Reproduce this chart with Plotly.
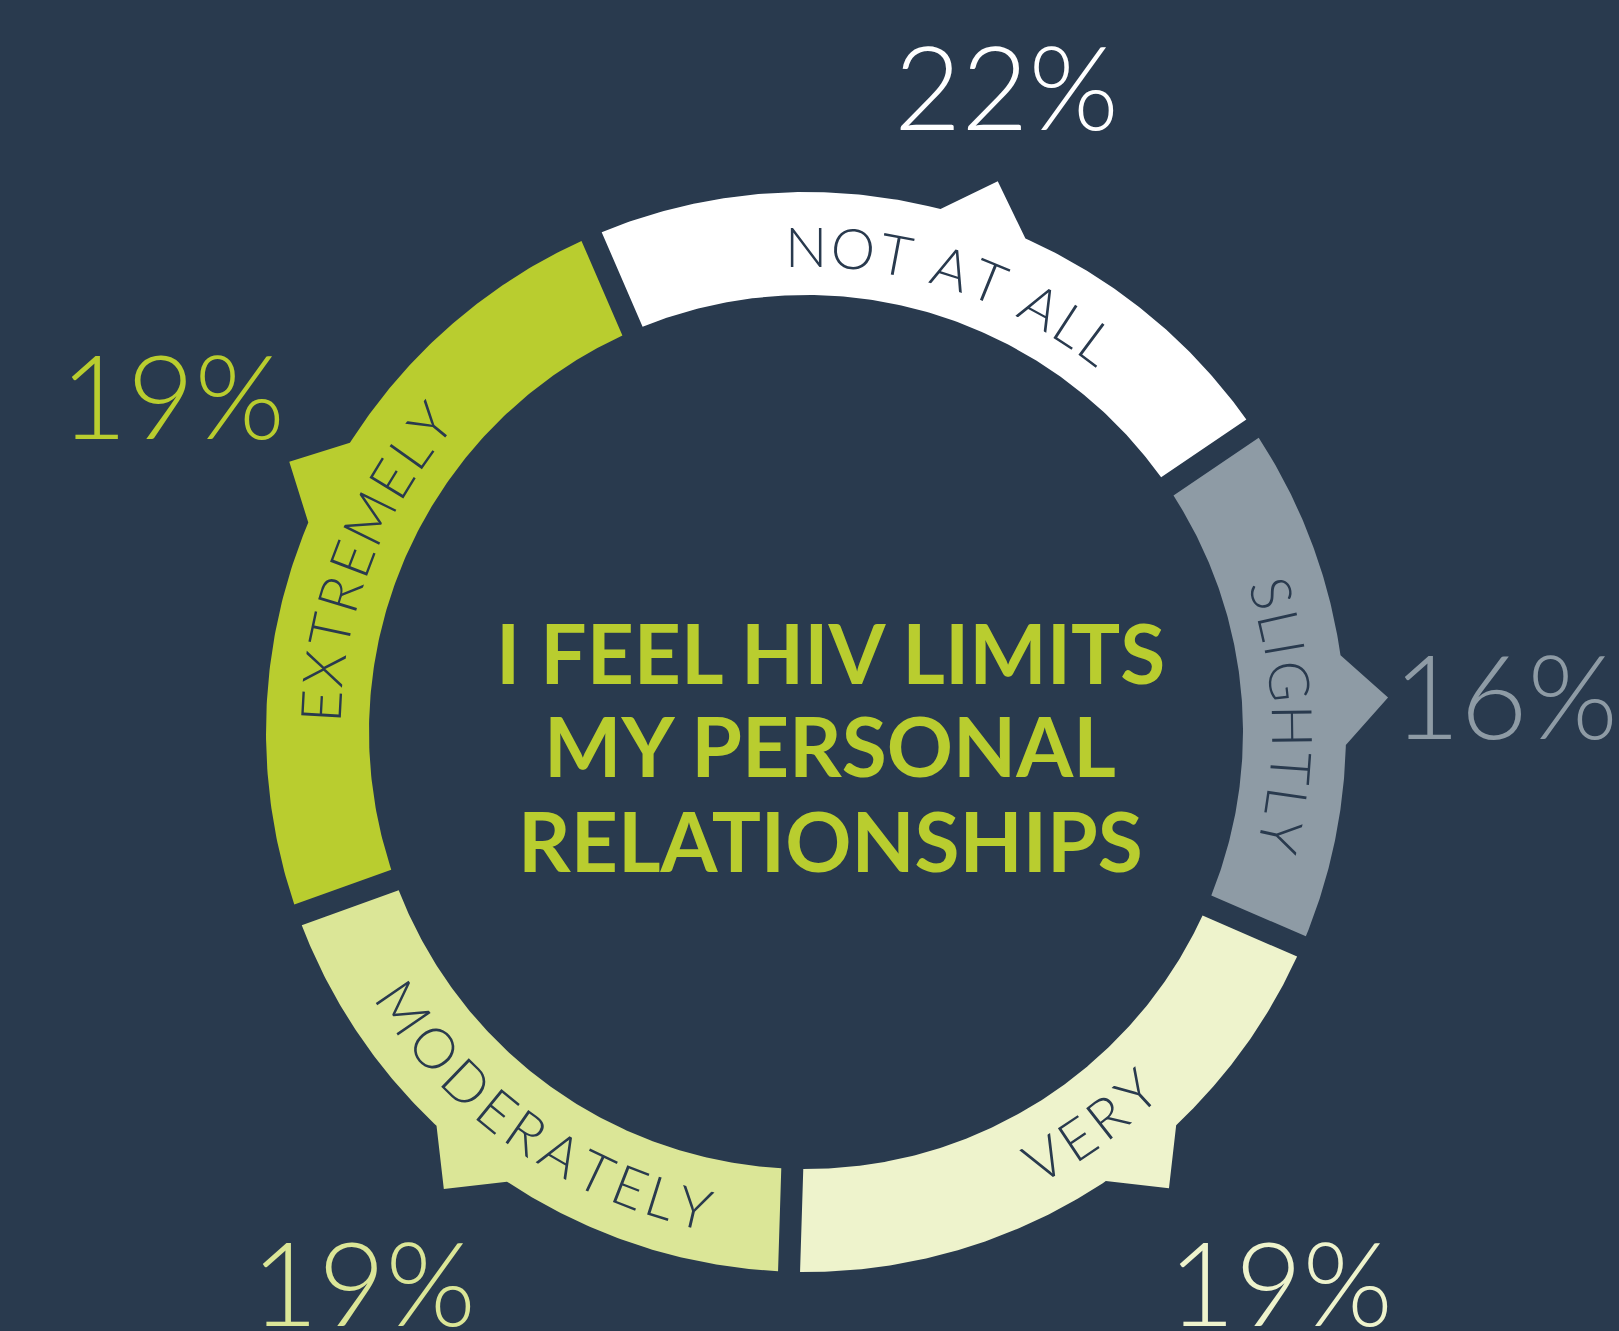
import numpy as np
import plotly.graph_objects as go

# ---------------- data ----------------
categories = ["NOT AT ALL", "SLIGHTLY", "VERY", "MODERATELY", "EXTREMELY"]
percent = [22, 16, 19, 19, 19]
pct_labels = ["22%", "16%", "19%", "19%", "19%"]
title_lines = ["I FEEL HIV LIMITS", "MY PERSONAL", "RELATIONSHIPS"]

# ---------------- styles / layout ----------------
BG = "#293a4e"
seg_colors = ["#ffffff", "#8e9ba5", "#eef3cc", "#dbe697", "#b9cd2f"]
W, H = 1619, 1331
CX, CY = 806, 732
R_OUT, R_IN = 540, 437
GAP = 11            # half-width of the gap between segments (px)
START = -23.4       # clockwise from 12 o'clock, start of first segment
TAB_ANGLE = [19.2, 86.6, 141.5, 218.4, 297.6]
TAB_HALF = 45       # half base of the pointer triangle (px)
LABEL_ANGLE = [18.0, 88.0, 144.2, 214.9, 291.3]
LABEL_FLIP = [False, False, True, True, False]
R_TEXT = 487
LABEL_FS = 56
TRACK = 4.0
PCT_POS = [(1006, 85), (1505, 694), (1280, 1281), (363, 1281), (172, 394)]
PCT_FS = 116
TITLE_Y = [652, 745, 840]
TITLE_X = 830
TITLE_FS = 82

CHAR_W = {"A": 0.67, "C": 0.68, "D": 0.74, "E": 0.56, "G": 0.73, "H": 0.75,
          "I": 0.27, "L": 0.49, "M": 0.90, "N": 0.75, "O": 0.80, "R": 0.62,
          "S": 0.53, "T": 0.60, "V": 0.67, "X": 0.64, "Y": 0.61, " ": 0.25}


def pt(theta, r):
    t = np.radians(theta)
    return CX + r * np.sin(t), CY - r * np.cos(t)


# segment boundaries from the percentages (last segment closes the ring)
bounds = [START]
for p in percent[:-1]:
    bounds.append(bounds[-1] + p * 3.6)
bounds.append(START + 360)

fig = go.Figure()

do = np.degrees(np.arcsin(GAP / R_OUT))
di = np.degrees(np.arcsin(GAP / R_IN))
dt = np.degrees(TAB_HALF / R_OUT)
r_peak = R_OUT * np.cos(np.radians(dt)) + R_OUT * np.sin(np.radians(dt))

for i, cat in enumerate(categories):
    a0, a1 = bounds[i], bounds[i + 1]
    s, e = a0 + do, a1 - do
    tab = TAB_ANGLE[i]
    o1 = np.linspace(s, tab - dt, 80)
    o2 = np.linspace(tab + dt, e, 80)
    xs, ys = [], []
    for a in o1:
        x, y = pt(a, R_OUT); xs.append(x); ys.append(y)
    x, y = pt(tab, r_peak); xs.append(x); ys.append(y)
    for a in o2:
        x, y = pt(a, R_OUT); xs.append(x); ys.append(y)
    for a in np.linspace(a1 - di, a0 + di, 160):
        x, y = pt(a, R_IN); xs.append(x); ys.append(y)
    xs.append(xs[0]); ys.append(ys[0])
    fig.add_trace(go.Scatter(x=xs, y=ys, mode="lines", fill="toself",
                             fillcolor=seg_colors[i], line=dict(width=0),
                             hoverinfo="skip", showlegend=False, name=cat))

annotations = []
# curved labels inside ring
for i, cat in enumerate(categories):
    widths = [CHAR_W.get(c, 0.6) * LABEL_FS for c in cat]
    centers = []
    pos = 0.0
    for w in widths:
        centers.append(pos + w / 2)
        pos += w + TRACK
    total = pos - TRACK
    for c, cpos in zip(cat, centers):
        if c == " ":
            continue
        off = np.degrees((cpos - total / 2) / R_TEXT)
        if LABEL_FLIP[i]:
            th = LABEL_ANGLE[i] - off
            rot = th - 180
        else:
            th = LABEL_ANGLE[i] + off
            rot = th
        x, y = pt(th, R_TEXT)
        rot = ((rot + 180) % 360) - 180
        annotations.append(dict(x=x, y=y, xref="x", yref="y", text=c,
                                showarrow=False, textangle=rot,
                                xanchor="center", yanchor="middle",
                                font=dict(family="Lato", size=LABEL_FS,
                                          color=BG, weight=300)))

# percentage labels
for i, lab in enumerate(pct_labels):
    x, y = PCT_POS[i]
    annotations.append(dict(x=x, y=y, xref="x", yref="y", text=lab,
                            showarrow=False, xanchor="center", yanchor="middle",
                            font=dict(family="Lato", size=PCT_FS,
                                      color=seg_colors[i], weight=300)))

# center title
for line, y in zip(title_lines, TITLE_Y):
    annotations.append(dict(x=TITLE_X, y=y, xref="x", yref="y", text=line,
                            showarrow=False, xanchor="center", yanchor="middle",
                            font=dict(family="Lato", size=TITLE_FS,
                                      color="#b9cd2f", weight=700)))

fig.update_layout(
    width=W, height=H, margin=dict(l=0, r=0, t=0, b=0, pad=0),
    paper_bgcolor=BG, plot_bgcolor=BG,
    xaxis=dict(range=[0, W], visible=False, fixedrange=True),
    yaxis=dict(range=[H, 0], visible=False, fixedrange=True),
    annotations=annotations, showlegend=False,
)

fig.write_html("out.html", config={"displayModeBar": False},
               post_script="document.body.style.margin='0';document.body.style.overflow='hidden';")
